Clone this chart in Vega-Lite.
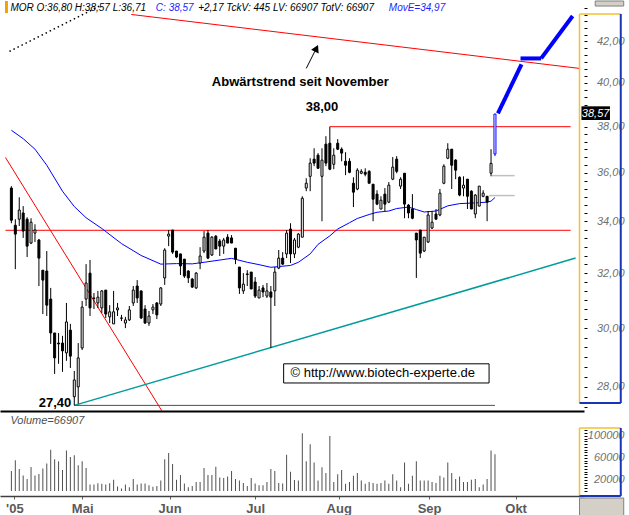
{
  "$schema": "https://vega.github.io/schema/vega-lite/v6.json",
  "padding": 0,
  "background": "white",
  "spacing": 0,
  "config": {"view": {"stroke": null}, "font": "Liberation Sans", "axis": {"grid": false}},
  "resolve": {"scale": {"x": "independent", "y": "independent"}},
  "datasets": {
    "candles": [
      {"t":0,"o":35.36,"h":35.44,"l":33.93,"c":34.05,"v":36500},
      {"t":1,"o":33.85,"h":34.09,"l":32.15,"c":33.50,"v":56000},
      {"t":2,"o":34.09,"h":34.98,"l":33.82,"c":34.46,"v":40000},
      {"t":3,"o":34.34,"h":34.62,"l":33.35,"c":33.62,"v":28000},
      {"t":4,"o":34.09,"h":34.17,"l":32.61,"c":33.03,"v":22000},
      {"t":5,"o":33.15,"h":34.13,"l":33.11,"c":33.97,"v":43500},
      {"t":6,"o":33.54,"h":33.89,"l":33.19,"c":33.66,"v":28000},
      {"t":7,"o":33.27,"h":33.31,"l":31.52,"c":32.57,"v":31000},
      {"t":8,"o":32.11,"h":32.11,"l":30.50,"c":31.74,"v":41000},
      {"t":9,"o":32.08,"h":32.84,"l":30.43,"c":30.82,"v":50000},
      {"t":10,"o":31.04,"h":31.45,"l":29.45,"c":29.83,"v":75000},
      {"t":11,"o":29.83,"h":29.83,"l":28.43,"c":28.97,"v":57500},
      {"t":12,"o":29.48,"h":29.83,"l":28.77,"c":29.45,"v":54000},
      {"t":13,"o":29.48,"h":29.73,"l":28.50,"c":29.21,"v":38000},
      {"t":14,"o":29.14,"h":30.90,"l":28.87,"c":30.22,"v":73500},
      {"t":15,"o":29.93,"h":30.15,"l":28.63,"c":29.03,"v":62000},
      {"t":16,"o":27.68,"h":28.53,"l":27.40,"c":28.23,"v":65000},
      {"t":17,"o":28.00,"h":29.48,"l":27.45,"c":28.97,"v":47000},
      {"t":18,"o":29.31,"h":30.97,"l":29.24,"c":30.75,"v":54000},
      {"t":19,"o":31.04,"h":32.34,"l":30.79,"c":31.63,"v":42000},
      {"t":20,"o":32.00,"h":32.50,"l":30.43,"c":30.72,"v":12000},
      {"t":21,"o":31.08,"h":31.26,"l":30.68,"c":31.06,"v":12000},
      {"t":22,"o":30.90,"h":31.34,"l":30.72,"c":31.11,"v":14000},
      {"t":23,"o":30.72,"h":31.37,"l":30.54,"c":31.34,"v":13000},
      {"t":24,"o":31.37,"h":31.37,"l":30.36,"c":30.50,"v":12000},
      {"t":25,"o":30.40,"h":30.82,"l":30.18,"c":30.58,"v":14000},
      {"t":26,"o":30.15,"h":31.34,"l":30.15,"c":30.58,"v":20500},
      {"t":27,"o":30.65,"h":30.90,"l":30.43,"c":30.72,"v":8000},
      {"t":28,"o":30.36,"h":30.47,"l":30.25,"c":30.35,"v":4700},
      {"t":29,"o":30.18,"h":30.40,"l":30.00,"c":30.29,"v":12000},
      {"t":30,"o":30.29,"h":30.79,"l":30.25,"c":30.65,"v":7000},
      {"t":31,"o":30.90,"h":31.52,"l":30.79,"c":31.37,"v":22000},
      {"t":32,"o":31.52,"h":31.74,"l":30.90,"c":31.08,"v":12000},
      {"t":33,"o":31.34,"h":31.34,"l":30.32,"c":30.36,"v":13500},
      {"t":34,"o":30.68,"h":30.82,"l":30.15,"c":30.18,"v":13500},
      {"t":35,"o":30.18,"h":30.61,"l":30.08,"c":30.43,"v":10500},
      {"t":36,"o":30.65,"h":30.86,"l":30.50,"c":30.75,"v":7500},
      {"t":37,"o":30.90,"h":30.93,"l":30.32,"c":30.47,"v":9000},
      {"t":38,"o":30.86,"h":31.48,"l":30.79,"c":31.45,"v":19000},
      {"t":39,"o":31.82,"h":32.95,"l":31.56,"c":32.88,"v":57500},
      {"t":40,"o":33.42,"h":33.66,"l":33.03,"c":33.50,"v":69000},
      {"t":41,"o":33.66,"h":33.66,"l":32.73,"c":32.80,"v":49000},
      {"t":42,"o":32.84,"h":32.84,"l":32.57,"c":32.61,"v":20500},
      {"t":43,"o":32.73,"h":32.73,"l":31.93,"c":32.27,"v":29000},
      {"t":44,"o":32.53,"h":32.53,"l":31.82,"c":31.89,"v":13500},
      {"t":45,"o":32.08,"h":32.11,"l":31.63,"c":31.82,"v":7000},
      {"t":46,"o":31.78,"h":31.82,"l":31.45,"c":31.48,"v":9000},
      {"t":47,"o":31.45,"h":32.04,"l":31.41,"c":32.00,"v":16500},
      {"t":48,"o":32.38,"h":32.99,"l":32.15,"c":32.65,"v":16500},
      {"t":49,"o":32.84,"h":33.62,"l":32.76,"c":33.38,"v":42000},
      {"t":50,"o":33.54,"h":33.66,"l":32.53,"c":32.57,"v":29000},
      {"t":51,"o":32.69,"h":33.42,"l":32.65,"c":33.38,"v":29000},
      {"t":52,"o":33.42,"h":33.46,"l":32.92,"c":32.92,"v":44000},
      {"t":53,"o":33.23,"h":33.31,"l":32.65,"c":33.03,"v":24500},
      {"t":54,"o":33.03,"h":33.35,"l":32.73,"c":33.27,"v":23500},
      {"t":55,"o":33.38,"h":33.50,"l":33.15,"c":33.15,"v":26500},
      {"t":56,"o":33.35,"h":33.46,"l":33.15,"c":33.15,"v":36500},
      {"t":57,"o":32.95,"h":32.95,"l":32.34,"c":32.53,"v":22000},
      {"t":58,"o":32.23,"h":32.23,"l":31.23,"c":31.45,"v":19000},
      {"t":59,"o":31.34,"h":32.00,"l":31.23,"c":31.59,"v":14500},
      {"t":60,"o":31.97,"h":32.11,"l":31.52,"c":31.95,"v":9000},
      {"t":61,"o":32.04,"h":32.04,"l":31.41,"c":31.41,"v":23500},
      {"t":62,"o":31.67,"h":31.85,"l":31.08,"c":31.15,"v":13500},
      {"t":63,"o":31.08,"h":31.52,"l":31.08,"c":31.37,"v":10500},
      {"t":64,"o":31.45,"h":31.56,"l":31.11,"c":31.30,"v":10500},
      {"t":65,"o":31.15,"h":31.63,"l":31.08,"c":31.34,"v":16500},
      {"t":66,"o":31.30,"h":31.52,"l":29.31,"c":31.11,"v":40000},
      {"t":67,"o":31.34,"h":32.23,"l":30.79,"c":32.04,"v":36500},
      {"t":68,"o":32.19,"h":32.88,"l":32.15,"c":32.57,"v":14500},
      {"t":69,"o":32.57,"h":32.80,"l":32.31,"c":32.34,"v":13500},
      {"t":70,"o":32.73,"h":33.66,"l":32.57,"c":33.54,"v":66000},
      {"t":71,"o":33.70,"h":33.93,"l":32.38,"c":32.73,"v":35000},
      {"t":72,"o":32.73,"h":33.35,"l":32.57,"c":33.27,"v":20000},
      {"t":73,"o":32.99,"h":33.54,"l":32.95,"c":33.50,"v":19000},
      {"t":74,"o":33.38,"h":35.02,"l":33.38,"c":34.94,"v":105000},
      {"t":75,"o":35.36,"h":35.77,"l":35.23,"c":35.56,"v":54000},
      {"t":76,"o":35.85,"h":36.62,"l":35.23,"c":36.41,"v":85000},
      {"t":77,"o":36.58,"h":37.05,"l":36.28,"c":36.41,"v":52000},
      {"t":78,"o":36.75,"h":36.84,"l":36.19,"c":36.19,"v":19000},
      {"t":79,"o":35.85,"h":37.05,"l":34.01,"c":36.54,"v":43000},
      {"t":80,"o":37.23,"h":37.58,"l":36.28,"c":36.41,"v":32500},
      {"t":81,"o":37.27,"h":38.00,"l":36.11,"c":36.15,"v":100000},
      {"t":82,"o":36.36,"h":37.05,"l":36.15,"c":36.75,"v":16500},
      {"t":83,"o":37.27,"h":37.45,"l":36.97,"c":37.01,"v":30500},
      {"t":84,"o":37.01,"h":37.09,"l":36.49,"c":36.84,"v":38000},
      {"t":85,"o":36.49,"h":36.88,"l":35.90,"c":36.32,"v":13000},
      {"t":86,"o":36.49,"h":36.62,"l":35.98,"c":36.02,"v":16500},
      {"t":87,"o":35.56,"h":35.81,"l":34.58,"c":35.19,"v":27500},
      {"t":88,"o":35.32,"h":36.19,"l":35.27,"c":36.11,"v":32500},
      {"t":89,"o":35.98,"h":36.15,"l":35.94,"c":36.06,"v":19000},
      {"t":90,"o":36.02,"h":36.19,"l":35.85,"c":35.94,"v":13000},
      {"t":91,"o":36.06,"h":36.11,"l":35.56,"c":35.56,"v":16500},
      {"t":92,"o":35.52,"h":35.52,"l":34.01,"c":34.90,"v":14500},
      {"t":93,"o":35.11,"h":35.27,"l":34.66,"c":34.70,"v":13000},
      {"t":94,"o":34.50,"h":35.02,"l":34.50,"c":34.86,"v":14500},
      {"t":95,"o":35.11,"h":35.36,"l":34.42,"c":34.70,"v":19000},
      {"t":96,"o":34.78,"h":35.61,"l":34.74,"c":35.48,"v":13000},
      {"t":97,"o":35.73,"h":36.67,"l":35.69,"c":36.24,"v":30500},
      {"t":98,"o":36.58,"h":36.71,"l":35.98,"c":36.06,"v":19000},
      {"t":99,"o":35.44,"h":35.81,"l":35.32,"c":35.73,"v":7000},
      {"t":100,"o":35.98,"h":35.98,"l":34.13,"c":34.70,"v":52000},
      {"t":101,"o":34.66,"h":34.70,"l":34.13,"c":34.34,"v":13000},
      {"t":102,"o":34.50,"h":35.11,"l":34.09,"c":34.13,"v":27500},
      {"t":103,"o":33.54,"h":33.54,"l":31.82,"c":33.27,"v":54000},
      {"t":104,"o":33.66,"h":33.66,"l":32.57,"c":32.76,"v":19000},
      {"t":105,"o":32.84,"h":33.38,"l":32.80,"c":33.38,"v":19000},
      {"t":106,"o":33.19,"h":34.42,"l":33.15,"c":34.26,"v":19000},
      {"t":107,"o":33.74,"h":34.42,"l":33.70,"c":33.97,"v":16500},
      {"t":108,"o":34.30,"h":34.50,"l":34.09,"c":34.09,"v":14500},
      {"t":109,"o":34.26,"h":35.32,"l":34.21,"c":35.15,"v":27500},
      {"t":110,"o":35.56,"h":36.36,"l":35.52,"c":36.28,"v":24500},
      {"t":111,"o":36.62,"h":37.27,"l":36.58,"c":37.01,"v":52000},
      {"t":112,"o":37.01,"h":37.01,"l":35.32,"c":36.32,"v":32500},
      {"t":113,"o":36.54,"h":36.58,"l":35.73,"c":36.11,"v":22000},
      {"t":114,"o":35.81,"h":35.85,"l":35.02,"c":35.07,"v":26500},
      {"t":115,"o":35.36,"h":35.85,"l":35.02,"c":35.48,"v":16500},
      {"t":116,"o":35.73,"h":35.73,"l":34.50,"c":35.02,"v":16500},
      {"t":117,"o":35.23,"h":35.27,"l":34.50,"c":34.50,"v":20500},
      {"t":118,"o":34.30,"h":35.11,"l":34.13,"c":35.07,"v":22000},
      {"t":119,"o":34.62,"h":35.44,"l":34.62,"c":35.44,"v":7000},
      {"t":120,"o":35.02,"h":35.27,"l":34.98,"c":35.15,"v":12000},
      {"t":121,"o":35.02,"h":35.02,"l":34.01,"c":34.78,"v":22000},
      {"t":122,"o":35.98,"h":37.01,"l":35.85,"c":36.40,"v":73500},
      {"t":123,"o":36.80,"h":38.57,"l":36.71,"c":38.57,"v":66907}
    ],
    "ma": [
      {"t":0,"ma":37.84},{"t":3,"ma":37.47},{"t":6,"ma":37.01},{"t":9,"ma":36.32},{"t":13,"ma":35.23},
      {"t":16,"ma":34.60},{"t":19,"ma":34.15},{"t":23,"ma":33.72},{"t":28,"ma":33.13},{"t":33,"ma":32.67},
      {"t":38,"ma":32.34},{"t":42,"ma":32.36},{"t":46,"ma":32.35},{"t":49,"ma":32.41},{"t":56,"ma":32.56},
      {"t":60,"ma":32.41},{"t":63,"ma":32.32},{"t":66,"ma":32.22},{"t":71,"ma":32.29},{"t":73,"ma":32.41},
      {"t":76,"ma":32.73},{"t":78,"ma":33.10},{"t":81,"ma":33.43},{"t":83,"ma":33.70},{"t":86,"ma":33.95},
      {"t":88,"ma":34.12},{"t":91,"ma":34.28},{"t":93,"ma":34.37},{"t":96,"ma":34.42},{"t":98,"ma":34.52},
      {"t":101,"ma":34.58},{"t":103,"ma":34.48},{"t":105,"ma":34.38},{"t":108,"ma":34.42},{"t":111,"ma":34.63},
      {"t":114,"ma":34.72},{"t":118,"ma":34.75},{"t":121,"ma":34.78},{"t":122,"ma":34.82},{"t":123,"ma":34.97}
    ],
    "lines": [
      {"kind":"red","t1":30.5,"p1":43.35,"t2":144.5,"p2":40.69},
      {"kind":"red","t1":-1.5,"p1":36.65,"t2":38.3,"p2":27.22},
      {"kind":"red","t1":-1.5,"p1":33.65,"t2":142.25,"p2":33.65},
      {"kind":"red","t1":81,"p1":38.0,"t2":142.25,"p2":38.0},
      {"kind":"teal","t1":16,"p1":27.40,"t2":143.5,"p2":32.57},
      {"kind":"grey","t1":16,"p1":27.40,"t2":123,"p2":27.40},
      {"kind":"light","t1":122.25,"p1":35.88,"t2":128,"p2":35.88},
      {"kind":"light","t1":121.5,"p1":35.05,"t2":128,"p2":35.05},
      {"kind":"dotted","t1":-0.5,"p1":41.51,"t2":22.75,"p2":43.81},
      {"kind":"projection","t1":123.75,"p1":38.60,"t2":129.75,"p2":40.88},
      {"kind":"projection","t1":129.5,"p1":41.17,"t2":134.75,"p2":41.17},
      {"kind":"projection","t1":134.75,"p1":41.17,"t2":142.75,"p2":43.27},
      {"kind":"arrow","t1":75,"p1":40.69,"t2":77.8,"p2":41.75}
    ],
    "notes": [
      {"label":"Abwärtstrend seit November","t":73.5,"p":40.05},
      {"label":"38,00","t":79,"p":38.87}
    ],
    "header": [
      {"label":"MOR O:36,80 H:38,57 L:36,71","t":-0.25,"p":43.68,"kind":"quote"},
      {"label":"C: 38,57","t":36.75,"p":43.68,"kind":"close"},
      {"label":"+2,17 TckV: 445 LV: 66907 TotV: 66907","t":47.5,"p":43.68,"kind":"quote"},
      {"label":"MovE=34,97","t":96,"p":43.68,"kind":"close"}
    ]
  },
  "vconcat": [
    {
      "width": 584,
      "height": 410,
      "layer": [
        {
          "data": {"name": "lines"},
          "transform": [{"filter": "datum.kind == 'red'"}],
          "mark": {"type": "rule", "color": "#ff0000", "strokeWidth": 1},
          "encoding": {
            "x": {"field": "t1", "type": "quantitative", "title": null,
                  "scale": {"domain": [-1.625, 144.375], "nice": false, "zero": false},
                  "axis": {"orient": "bottom", "labels": false, "ticks": false, "domain": true, "domainColor": "#000000", "domainWidth": 2, "title": null}},
            "x2": {"field": "t2"},
            "y": {"field": "p1", "type": "quantitative", "title": null,
                  "scale": {"type": "log", "domain": [27.22, 44.04], "nice": false},
                  "axis": {"orient": "right", "title": null, "domain": false, "tickColor": "#000000", "tickSize": 3,
                           "values": [27.333,27.667,28,28.333,28.667,29,29.333,29.667,30,30.333,30.667,31,31.333,31.667,32,32.333,32.667,33,33.333,33.667,34,34.333,34.667,35,35.333,35.667,36,36.333,36.667,37,37.333,37.667,38,38.333,38.667,39,39.333,39.667,40,40.333,40.667,41,41.333,41.667,42,42.333,42.667,43,43.333,43.667],
                           "labelExpr": "(abs(datum.value/2 - round(datum.value/2)) < 0.001 && datum.value < 43) ? replace(format(datum.value, '.2f'), '.', ',') : ''",
                           "labelFont": "Liberation Sans", "labelFontSize": 11, "labelFontStyle": "italic", "labelColor": "#707070",
                           "labelAlign": "right", "labelPadding": 37, "labelOverlap": false, "labelBound": false}},
            "y2": {"field": "p2"}
          }
        },
        {
          "data": {"name": "lines"},
          "transform": [{"filter": "datum.kind == 'teal'"}],
          "mark": {"type": "rule", "color": "#009c9c", "strokeWidth": 1.5},
          "encoding": {
            "x": {"field": "t1", "type": "quantitative", "title": null}, "x2": {"field": "t2"},
            "y": {"field": "p1", "type": "quantitative", "title": null}, "y2": {"field": "p2"}
          }
        },
        {
          "data": {"name": "lines"},
          "transform": [{"filter": "datum.kind == 'grey'"}],
          "mark": {"type": "rule", "color": "#505050", "strokeWidth": 1},
          "encoding": {
            "x": {"field": "t1", "type": "quantitative", "title": null}, "x2": {"field": "t2"},
            "y": {"field": "p1", "type": "quantitative", "title": null}, "y2": {"field": "p2"}
          }
        },
        {
          "data": {"name": "lines"},
          "transform": [{"filter": "datum.kind == 'light'"}],
          "mark": {"type": "rule", "color": "#c0c0c0", "strokeWidth": 1.5},
          "encoding": {
            "x": {"field": "t1", "type": "quantitative", "title": null}, "x2": {"field": "t2"},
            "y": {"field": "p1", "type": "quantitative", "title": null}, "y2": {"field": "p2"}
          }
        },
        {
          "data": {"name": "lines"},
          "transform": [{"filter": "datum.kind == 'dotted'"}],
          "mark": {"type": "rule", "color": "#000000", "strokeWidth": 1.5, "strokeDash": [1.5, 3]},
          "encoding": {
            "x": {"field": "t1", "type": "quantitative", "title": null}, "x2": {"field": "t2"},
            "y": {"field": "p1", "type": "quantitative", "title": null}, "y2": {"field": "p2"}
          }
        },
        {
          "data": {"name": "ma"},
          "mark": {"type": "line", "color": "#0000ff", "strokeWidth": 1},
          "encoding": {
            "x": {"field": "t", "type": "quantitative", "title": null},
            "y": {"field": "ma", "type": "quantitative", "title": null}
          }
        },
        {
          "data": {"name": "candles"},
          "mark": {"type": "rule", "strokeWidth": 1},
          "encoding": {
            "x": {"field": "t", "type": "quantitative", "title": null},
            "y": {"field": "l", "type": "quantitative", "title": null},
            "y2": {"field": "h"},
            "color": {"condition": {"test": "datum.t == 123", "value": "#0000ff"}, "value": "#000000"}
          }
        },
        {
          "data": {"name": "candles"},
          "mark": {"type": "bar", "size": 2, "strokeWidth": 1},
          "encoding": {
            "x": {"field": "t", "type": "quantitative", "title": null},
            "y": {"field": "o", "type": "quantitative", "title": null},
            "y2": {"field": "c"},
            "fill": {"condition": {"test": "datum.c < datum.o", "value": "#000000"}, "value": "#ffffff"},
            "stroke": {"condition": {"test": "datum.t == 123", "value": "#0000ff"}, "value": "#000000"}
          }
        },
        {
          "data": {"name": "lines"},
          "transform": [{"filter": "datum.kind == 'projection'"}],
          "mark": {"type": "rule", "color": "#0000ff", "strokeWidth": 4},
          "encoding": {
            "x": {"field": "t1", "type": "quantitative", "title": null}, "x2": {"field": "t2"},
            "y": {"field": "p1", "type": "quantitative", "title": null}, "y2": {"field": "p2"}
          }
        },
        {
          "data": {"name": "lines"},
          "transform": [{"filter": "datum.kind == 'arrow'"}],
          "mark": {"type": "rule", "color": "#000000", "strokeWidth": 1},
          "encoding": {
            "x": {"field": "t1", "type": "quantitative", "title": null}, "x2": {"field": "t2"},
            "y": {"field": "p1", "type": "quantitative", "title": null}, "y2": {"field": "p2"}
          }
        },
        {
          "data": {"values": [{"t": 77.6, "p": 41.66}]},
          "mark": {"type": "point", "shape": "triangle-up", "filled": true, "color": "#000000", "size": 70, "angle": 26, "opacity": 1},
          "encoding": {
            "x": {"field": "t", "type": "quantitative", "title": null},
            "y": {"field": "p", "type": "quantitative", "title": null}
          }
        },
        {
          "data": {"values": [{"t1": 69.25, "t2": 121.5, "p1": 28.77, "p2": 28.13}]},
          "mark": {"type": "rect", "fill": "#ffffff", "stroke": "#000000", "strokeWidth": 1},
          "encoding": {
            "x": {"field": "t1", "type": "quantitative", "title": null}, "x2": {"field": "t2"},
            "y": {"field": "p1", "type": "quantitative", "title": null}, "y2": {"field": "p2"}
          }
        },
        {
          "data": {"values": [{"label": "©  http://www.biotech-experte.de", "t": 71, "p": 28.45}]},
          "mark": {"type": "text", "align": "left", "baseline": "middle", "font": "Liberation Sans", "fontSize": 13, "color": "#000000"},
          "encoding": {
            "x": {"field": "t", "type": "quantitative", "title": null},
            "y": {"field": "p", "type": "quantitative", "title": null},
            "text": {"field": "label"}
          }
        },
        {
          "data": {"name": "notes"},
          "mark": {"type": "text", "align": "center", "baseline": "middle", "font": "Liberation Sans", "fontSize": 13, "fontWeight": "bold", "color": "#000000"},
          "encoding": {
            "x": {"field": "t", "type": "quantitative", "title": null},
            "y": {"field": "p", "type": "quantitative", "title": null},
            "text": {"field": "label"}
          }
        },
        {
          "data": {"values": [{"label": "27,40", "t": 15.25, "p": 27.49}]},
          "mark": {"type": "text", "align": "right", "baseline": "middle", "font": "Liberation Sans", "fontSize": 13, "fontWeight": "bold", "color": "#000000"},
          "encoding": {
            "x": {"field": "t", "type": "quantitative", "title": null},
            "y": {"field": "p", "type": "quantitative", "title": null},
            "text": {"field": "label"}
          }
        },
        {
          "data": {"name": "header"},
          "mark": {"type": "text", "align": "left", "baseline": "middle", "font": "Liberation Sans", "fontSize": 10, "fontStyle": "italic"},
          "encoding": {
            "x": {"field": "t", "type": "quantitative", "title": null},
            "y": {"field": "p", "type": "quantitative", "title": null},
            "text": {"field": "label"},
            "color": {"field": "kind", "type": "nominal", "scale": {"domain": ["quote", "close"], "range": ["#000000", "#1e1eff"]}, "legend": null}
          }
        },
        {
          "data": {"values": [{"t1": 145, "t2": 152.25, "p1": 38.92, "p2": 38.30}]},
          "mark": {"type": "rect", "fill": "#000000"},
          "encoding": {
            "x": {"field": "t1", "type": "quantitative", "title": null}, "x2": {"field": "t2"},
            "y": {"field": "p1", "type": "quantitative", "title": null}, "y2": {"field": "p2"}
          }
        },
        {
          "data": {"values": [{"label": "38,57", "t": 148.6, "p": 38.57}]},
          "mark": {"type": "text", "align": "center", "baseline": "middle", "font": "Liberation Sans", "fontSize": 11, "fontStyle": "italic", "color": "#ffffff"},
          "encoding": {
            "x": {"field": "t", "type": "quantitative", "title": null},
            "y": {"field": "p", "type": "quantitative", "title": null},
            "text": {"field": "label"}
          }
        },
        {
          "data": {"values": [
            {"side": "top", "t1": 144.5, "t2": 155, "p1": 43.37, "p2": 43.37},
            {"side": "left", "t1": 144.5, "t2": 144.5, "p1": 43.37, "p2": 27.48}
          ]},
          "mark": {"type": "rule", "color": "#f2c232", "strokeWidth": 1.5},
          "encoding": {
            "x": {"field": "t1", "type": "quantitative", "title": null}, "x2": {"field": "t2"},
            "y": {"field": "p1", "type": "quantitative", "title": null}, "y2": {"field": "p2"}
          }
        },
        {
          "data": {"values": [
            {"side": "right", "t1": 155, "t2": 155, "p1": 43.37, "p2": 27.48},
            {"side": "bottom", "t1": 144.5, "t2": 155, "p1": 27.48, "p2": 27.48}
          ]},
          "mark": {"type": "rule", "color": "#1a34b8", "strokeWidth": 2},
          "encoding": {
            "x": {"field": "t1", "type": "quantitative", "title": null}, "x2": {"field": "t2"},
            "y": {"field": "p1", "type": "quantitative", "title": null}, "y2": {"field": "p2"}
          }
        },
        {
          "data": {"values": [{"t1": -1.625, "t2": -0.875, "p1": 44.04, "p2": 43.42}]},
          "mark": {"type": "rect", "fill": "#f5a000"},
          "encoding": {
            "x": {"field": "t1", "type": "quantitative", "title": null}, "x2": {"field": "t2"},
            "y": {"field": "p1", "type": "quantitative", "title": null}, "y2": {"field": "p2"}
          }
        },
        {
          "data": {"values": [{"t1": 148.5, "t2": 155.75, "p1": 44.04, "p2": 43.78}]},
          "mark": {"type": "rect", "fill": "#d4d0c8", "stroke": "#808080", "strokeWidth": 1},
          "encoding": {
            "x": {"field": "t1", "type": "quantitative", "title": null}, "x2": {"field": "t2"},
            "y": {"field": "p1", "type": "quantitative", "title": null}, "y2": {"field": "p2"}
          }
        }
      ]
    },
    {
      "width": 584,
      "height": 83,
      "encoding": {
        "x": {"type": "quantitative", "title": null,
              "scale": {"domain": [-1.625, 144.375], "nice": false, "zero": false},
              "axis": {"orient": "bottom", "title": null, "values": [0.75, 18, 40.25, 62, 83.25, 106.25, 128.25],
                       "labelExpr": "datum.value < 5 ? \"'05\" : datum.value < 30 ? 'Mai' : datum.value < 50 ? 'Jun' : datum.value < 70 ? 'Jul' : datum.value < 95 ? 'Aug' : datum.value < 115 ? 'Sep' : 'Okt'",
                       "labelFont": "Liberation Sans", "labelFontSize": 13, "labelFontWeight": "bold", "labelColor": "#5a5a5a",
                       "domainColor": "#404040", "domainWidth": 1.5, "tickColor": "#606060", "tickSize": 3, "labelPadding": 3,
                       "labelOverlap": false, "labelBound": false, "labelFlush": false}},
        "y": {"type": "quantitative", "title": null,
              "scale": {"domain": [-9091, 141818], "nice": false},
              "axis": {"orient": "right", "title": null, "domain": false, "tickColor": "#000000", "tickSize": 3,
                       "values": [0,5000,10000,15000,20000,25000,30000,35000,40000,45000,50000,55000,60000,65000,70000,75000,80000,85000,90000,95000,100000,105000,110000],
                       "labelExpr": "(datum.value == 20000 || datum.value == 60000 || datum.value == 100000) ? format(datum.value, 'd') : ''",
                       "labelFont": "Liberation Sans", "labelFontSize": 11, "labelFontStyle": "italic", "labelColor": "#707070",
                       "labelAlign": "right", "labelPadding": 37, "labelOverlap": false, "labelBound": false}}
      },
      "layer": [
        {
          "data": {"name": "candles"},
          "mark": {"type": "bar", "size": 1, "color": "#505050"},
          "encoding": {
            "x": {"field": "t"},
            "y": {"field": "v"}
          }
        },
        {
          "data": {"values": [{"label": "Volume=66907", "t": -0.25, "v": 127273}]},
          "mark": {"type": "text", "align": "left", "baseline": "middle", "font": "Liberation Sans", "fontSize": 11, "fontStyle": "italic", "color": "#505050"},
          "encoding": {
            "x": {"field": "t"},
            "y": {"field": "v"},
            "text": {"field": "label"}
          }
        },
        {
          "data": {"values": [
            {"side": "top", "t1": 144.5, "t2": 155, "v1": 114545, "v2": 114545},
            {"side": "left", "t1": 144.5, "t2": 144.5, "v1": 114545, "v2": -9091}
          ]},
          "mark": {"type": "rule", "color": "#f2c232", "strokeWidth": 1.5},
          "encoding": {
            "x": {"field": "t1"}, "x2": {"field": "t2"},
            "y": {"field": "v1"}, "y2": {"field": "v2"}
          }
        },
        {
          "data": {"values": [
            {"side": "right", "t1": 155, "t2": 155, "v1": 114545, "v2": -9091},
            {"side": "bottom", "t1": 144.5, "t2": 155, "v1": -9091, "v2": -9091}
          ]},
          "mark": {"type": "rule", "color": "#1a34b8", "strokeWidth": 2},
          "encoding": {
            "x": {"field": "t1"}, "x2": {"field": "t2"},
            "y": {"field": "v1"}, "y2": {"field": "v2"}
          }
        },
        {
          "data": {"values": [{"t1": 144.5, "t2": 155.75, "v1": -12727, "v2": -45455}]},
          "mark": {"type": "rect", "fill": "#d4d0c8", "stroke": "#808080", "strokeWidth": 1},
          "encoding": {
            "x": {"field": "t1"}, "x2": {"field": "t2"},
            "y": {"field": "v1"}, "y2": {"field": "v2"}
          }
        }
      ]
    }
  ]
}
